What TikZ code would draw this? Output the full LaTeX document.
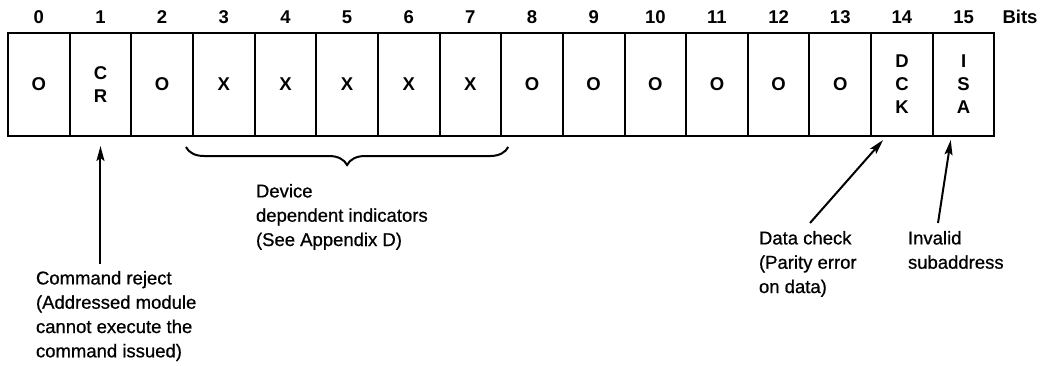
\documentclass[tikz,border=0pt]{standalone}
\usepackage{fontspec}
\setmainfont{Liberation Sans}
\newfontfamily\notefont{Liberation Sans}[BoldFont={Liberation Sans},BoldFeatures={FakeBold=0.7}]
\usetikzlibrary{calc,arrows.meta,decorations.pathreplacing}
\begin{document}
\begin{tikzpicture}[x=1pt,y=-1pt,line width=2pt,
  cell/.style={draw,minimum width=61.65pt,minimum height=103pt,inner sep=0pt,
    align=center,font=\fontsize{18.5}{23}\selectfont\bfseries},
  bitnum/.style={inner sep=0pt,font=\fontsize{18.5}{20}\selectfont\bfseries},
  note/.style={anchor=north west,inner sep=0pt,align=left,
    font=\fontsize{18.5}{24.3}\notefont\bfseries},
  arr/.style={-{Stealth[length=15pt,width=8pt,inset=3pt]}}]
\useasboundingbox (0,0) rectangle (1041,365);

% the sixteen bit cells of the status word
\foreach \i/\t in {0/O,1/{C\\R},2/O,3/X,4/X,5/X,6/X,7/X,8/O,9/O,10/O,11/O,12/O,13/O,14/{D\\C\\K},15/{I\\S\\A}}{
  \node[cell] (c\i) at ({8+61.65*(\i+0.5)},84.5) {\t};
  \node[bitnum] (n\i) at ({8+61.65*(\i+0.5)},17) {\i};
}
\node[bitnum] (bits) at (1020,17) {Bits};

% notes below the word
\node[note] (dev) at (255,183) {Device\\dependent indicators\\(See Appendix D)};
\node[note] (cmd) at (35,270) {Command reject\\(Addressed module\\cannot execute the\\command issued)};
\node[note] (data) at (758,230) {Data check\\(Parity error\\on data)};
\node[note] (inv) at (907,230) {Invalid\\subaddress};

% brace over bits 3 to 7
\draw[decorate,decoration={brace,mirror,amplitude=18pt}]
  ($(c3.south west)+(-6,10)$) -- ($(c7.south east)+(6,10)$);

% pointers to the flagged bits
\draw[arr] ($(cmd.north -| c1.south)+(0,-6)$) -- ($(c1.south)+(0,9)$);
\draw[arr] ($(data.north west)+(52,-7)$) -- ($(c14.south west)+(13,3)$);
\draw[arr] ($(inv.north west)+(31,-7)$) -- ($(c15.south west)+(19,3)$);
\end{tikzpicture}
\end{document}
